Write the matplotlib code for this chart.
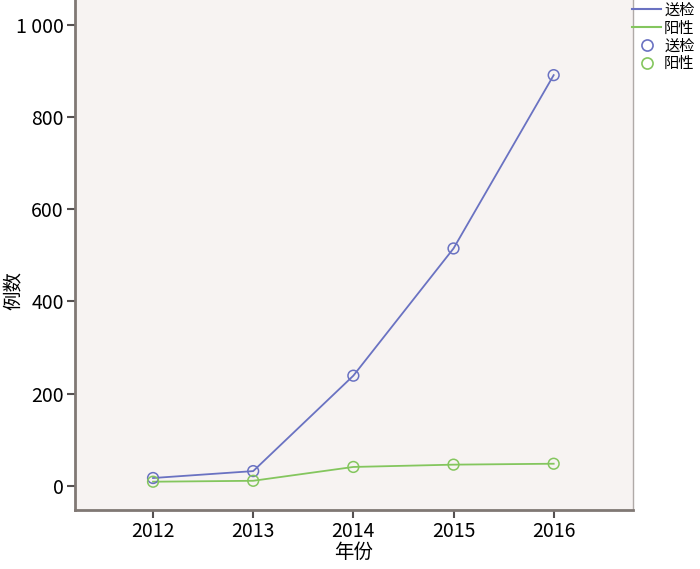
import matplotlib
matplotlib.use("Agg")
import matplotlib.pyplot as plt
from matplotlib.lines import Line2D

plt.rcParams['font.family'] = ['Noto Sans CJK SC', 'DejaVu Sans']

# data
years = [2012, 2013, 2014, 2015, 2016]
sent = [17, 32, 239, 515, 891]      # 送检
positive = [9, 11, 41, 46, 48]      # 阳性
yticks = [0, 200, 400, 600, 800, 1000]
ytick_labels = ["0", "200", "400", "600", "800", "1 000"]

blue = "#6a72c2"
green = "#84c65e"

fig = plt.figure(figsize=(7, 5.69), dpi=100)
ax = fig.add_axes([0.107, 0.104, 0.797, 0.896])
ax.set_facecolor("#f7f3f2")

ax.plot(years, sent, color=blue, lw=1.3)
ax.plot(years, positive, color=green, lw=1.3)
ax.scatter(years, sent, s=60, facecolors="none", edgecolors=blue, lw=1.1, zorder=3)
ax.scatter(years, positive, s=60, facecolors="none", edgecolors=green, lw=1.1, zorder=3)

ax.set_xlim(2011.22, 2016.79)
ax.set_ylim(-52, 1054)
ax.set_xticks(years)
ax.set_yticks(yticks)
ax.set_yticklabels(ytick_labels)
ax.tick_params(labelsize=14, length=6, width=1.5, color="#555050", pad=2)

for s in ["left", "bottom"]:
    ax.spines[s].set_color("#807874")
    ax.spines[s].set_linewidth(2)
ax.spines["right"].set_color("#b0aaa8")
ax.spines["right"].set_linewidth(1)
ax.spines["top"].set_visible(False)

ax.set_xlabel("年份", fontsize=14, labelpad=0)
ax.set_ylabel("例数", fontsize=14)
ax.yaxis.set_label_coords(-0.09, 0.43)

handles = [
    Line2D([], [], color=blue, lw=1.5),
    Line2D([], [], color=green, lw=1.5),
    Line2D([], [], color=blue, marker="o", ls="none", mfc="none", ms=8, mew=1.2),
    Line2D([], [], color=green, marker="o", ls="none", mfc="none", ms=8, mew=1.2),
]
labels = ["送检", "阳性", "送检", "阳性"]
fig.legend(handles, labels, loc="upper left", bbox_to_anchor=(0.903, 0.997),
           frameon=False, fontsize=11, handlelength=1.9, handletextpad=0.2,
           labelspacing=0.05, borderaxespad=0, borderpad=0)

fig.savefig("out.png", dpi=100)
